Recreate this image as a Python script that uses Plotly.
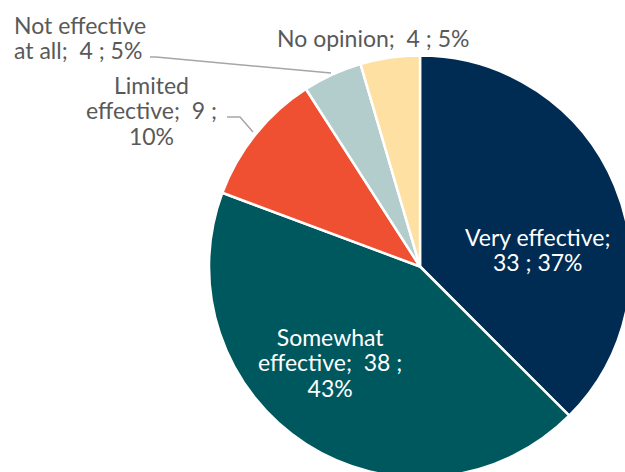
import plotly.graph_objects as go

# ---- data ----
labels = ["Very effective", "Somewhat effective", "Limited effective",
          "Not effective at all", "No opinion"]
values = [33, 38, 9, 4, 4]
pcts = [37, 43, 10, 5, 5]
colors = ["#002B53", "#00585F", "#EF5032", "#B3CDCC", "#FEE0A2"]

# ---- layout helpers ----
W, H = 640, 480  # figure slightly larger than window so pie bleeds off edge


def px(x):
    return x / W


def py(y):
    return 1 - y / H


fig = go.Figure(go.Pie(
    labels=labels, values=values, sort=False, direction="clockwise",
    rotation=0, marker=dict(colors=colors, line=dict(color="white", width=2.5)),
    textinfo="none", hoverinfo="label+value+percent", showlegend=False,
    domain=dict(x=[px(209), px(631)], y=[py(478), py(55)]),
))

# label line structures: tokens per line, placement, colour
label_specs = [
    dict(counts=[2, 4], x=538, yc=249.5, anchor="center", color="white"),
    dict(counts=[1, 4, 1], x=330, yc=362.3, anchor="center", color="white"),
    dict(counts=[1, 4, 1], x=151, yc=110.3, anchor="center", color="#595959"),
    dict(counts=[2, 6], x=12, yc=37.6, anchor="left", color="#595959"),
    dict(counts=[99], x=373, yc=38, anchor="center", color="#595959"),
]
annotations = []
for lab, v, p, spec in zip(labels, values, pcts, label_specs):
    full = f"{lab};  {v} ; {p}%"
    toks = full.split(" ")
    lines, i = [], 0
    for c in spec["counts"]:
        ln = " ".join(toks[i:i + c]).strip()
        i += c
        if ln:
            lines.append(f'<span style="font-size:23px">{ln.replace("  ", "&nbsp; ")}</span>')
    annotations.append(dict(
        text="<br>".join(lines), x=px(spec["x"]), y=py(spec["yc"]),
        xref="paper", yref="paper", showarrow=False,
        xanchor=spec["anchor"], yanchor="middle", align=spec["anchor"] if spec["anchor"] != "center" else "center",
        font=dict(family="Lato", size=19.5, color=spec["color"]),
    ))

shapes = [
    dict(type="path", xref="paper", yref="paper",
         path=f"M {px(227)} {py(117)} L {px(240)} {py(117)} L {px(253)} {py(132)}",
         line=dict(color="#A6A6A6", width=1.5)),
    dict(type="path", xref="paper", yref="paper",
         path=f"M {px(150)} {py(57)} L {px(156)} {py(57)} L {px(331)} {py(73)}",
         line=dict(color="#A6A6A6", width=1.5)),
]

fig.update_layout(
    width=W, height=H, margin=dict(l=0, r=0, t=0, b=0),
    paper_bgcolor="white", plot_bgcolor="white",
    annotations=annotations, shapes=shapes,
)

fig.write_html("out.html", config={"displayModeBar": False}, post_script=(
    "document.body.style.margin='0';"
    "document.body.style.overflow='hidden';"
    "document.documentElement.style.overflow='hidden';"
))
